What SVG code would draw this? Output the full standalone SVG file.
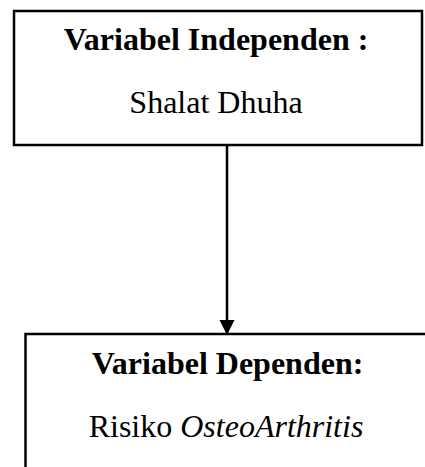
<svg xmlns="http://www.w3.org/2000/svg" width="425" height="467" viewBox="0 0 425 467">
<style>
.box{fill:#fff;stroke:#000;stroke-width:2.5}
.t{font-family:"Liberation Serif","Times New Roman",serif;font-size:32px;fill:#000;text-anchor:middle}
.b{font-weight:bold}
.i{font-style:italic}
.conn{stroke:#000;stroke-width:2.5;fill:none}
</style>
<defs>
<marker id="ah" markerUnits="userSpaceOnUse" markerWidth="15" markerHeight="16" refX="15" refY="8" orient="auto" viewBox="0 0 15 16">
<path d="M0,0.5 L15,8 L0,15.5 Z" fill="#000"/>
</marker>
</defs>
<g id="node-independen">
<rect class="box" x="14" y="11" width="408" height="134"/>
<text class="t b" x="216" y="50">Variabel Independen :</text>
<text class="t" x="216" y="113">Shalat Dhuha</text>
</g>
<g id="node-dependen">
<rect class="box" x="25.5" y="334" width="420" height="160"/>
<text class="t b" x="227.5" y="374">Variabel Dependen:</text>
<text class="t" x="226" y="437">Risiko <tspan class="i">OsteoArthritis</tspan></text>
</g>
<g id="connectors">
<line class="conn" x1="227" y1="146" x2="227" y2="335" marker-end="url(#ah)"/>
</g>
</svg>
